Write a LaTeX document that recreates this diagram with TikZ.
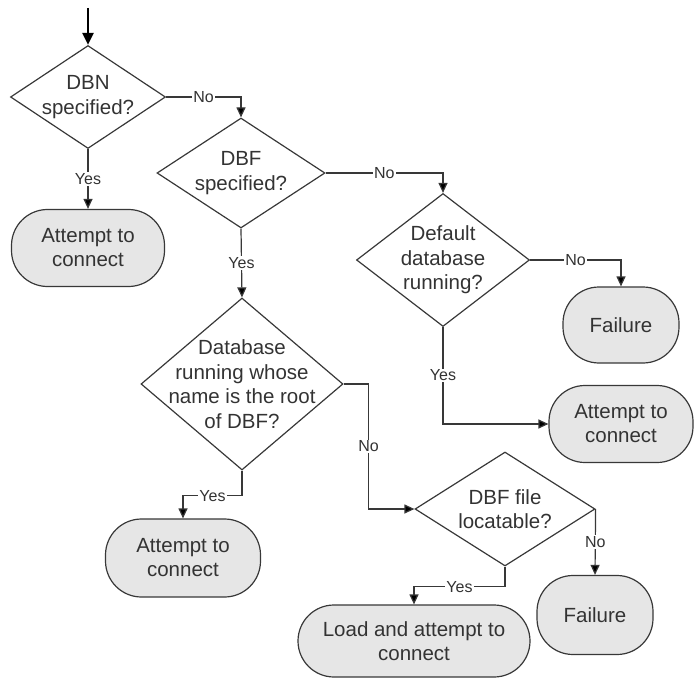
\documentclass[tikz,border=0pt]{standalone}
\usepackage{fontspec}
\setmainfont{Liberation Sans}
\usetikzlibrary{shapes.geometric, arrows.meta, positioning}
\definecolor{edgegray}{HTML}{383838}
\definecolor{textgray}{HTML}{333333}
\definecolor{boxgray}{HTML}{E6E6E6}
\tikzstyle{decision} = [diamond, draw=edgegray, line width=1.2pt, inner sep=0pt]
\tikzstyle{dectext} = [align=center, text=textgray, font=\fontsize{20.5}{24.5}\selectfont]
\tikzstyle{outcome} = [rectangle, rounded corners=36pt, draw=edgegray, line width=1.2pt, fill=boxgray, align=center, text=textgray, font=\fontsize{20.5}{24}\selectfont]
\tikzstyle{lbl} = [fill=white, inner sep=1pt, text=textgray, font=\fontsize{16}{18}\selectfont]
\tikzstyle{arrow} = [line width=1.2pt, draw=edgegray, -{Triangle[length=10pt,width=9pt,fill=black]}]

\begin{document}
\begin{tikzpicture}[x=1pt, y=-1pt]
        \useasboundingbox (0,0) rectangle (696,679);
        \coordinate (start) at (88,8);
        \node[decision, minimum width=155pt, minimum height=103pt, label={[dectext]center:DBN\\specified?}] (dbn) at (88,97) {};
        \node[decision, minimum width=168pt, minimum height=110pt, label={[dectext]center:DBF\\specified?}] (dbf) at (241,173) {};
        \node[decision, minimum width=173pt, minimum height=133pt, label={[dectext]center:Default\\database\\running?}] (dflt) at (443,260) {};
        \node[decision, minimum width=202pt, minimum height=172pt, label={[dectext]center:Database\\running whose\\name is the root\\of DBF?}] (root) at (242,384) {};
        \node[decision, minimum width=180pt, minimum height=114pt, label={[dectext]center:DBF file\\locatable?}] (locate) at (505,509) {};

        \node[outcome, minimum width=153pt, minimum height=77pt] (conn1) at (88,248) {Attempt to\\connect};
        \node[outcome, minimum width=116pt, minimum height=76pt] (fail1) at (621,325) {Failure};
        \node[outcome, minimum width=144pt, minimum height=77pt] (conn2) at (621,424) {Attempt to\\connect};
        \node[outcome, minimum width=155pt, minimum height=78pt] (conn3) at (183,558) {Attempt to\\connect};
        \node[outcome, minimum width=116pt, minimum height=79pt] (fail2) at (595,615) {Failure};
        \node[outcome, minimum width=232pt, minimum height=72pt] (load) at (414,641) {Load and attempt to\\connect};

        \draw[arrow, line width=2.2pt, draw=black, -{Triangle[length=12pt,width=11pt]}] (start) -- (dbn.north);
        \draw[arrow] (dbn.south) -- node[lbl]{Yes} (conn1.north);
        \draw[arrow] (dbn.east) -| node[lbl, pos=0.25]{No} (dbf.north);
        \draw[arrow] (dbf.east) -| node[lbl, pos=0.25]{No} (dflt.north);
        \draw[arrow] (dbf.south) -- node[lbl]{Yes} (root.north);
        \draw[arrow] (dflt.east) -| node[lbl, pos=0.25]{No} (fail1.north);
        \draw[arrow] (dflt.south) |- node[lbl, pos=0.25]{Yes} (conn2.west);
        \draw[arrow] (root.south) -- ++(0,25) -| node[lbl, pos=0.25]{Yes} (conn3.north);
        \draw[arrow] (root.east) -- ++(25,0) |- node[lbl, pos=0.25]{No} (locate.west);
        \draw[arrow] (locate.east) -- node[lbl]{No} (fail2.north);
        \draw[arrow] (locate.south) -- ++(0,20) -| node[lbl, pos=0.25]{Yes} (load.north);
    \end{tikzpicture}
\end{document}
